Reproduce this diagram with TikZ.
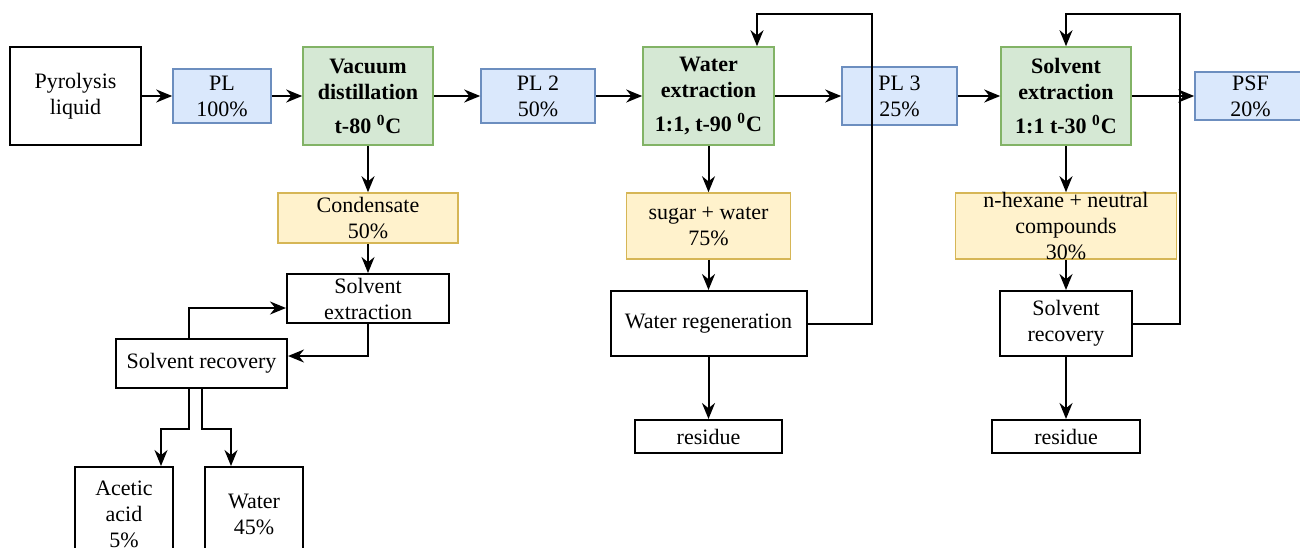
\documentclass[tikz,border=0pt]{standalone}
\usepackage{fontspec}
\setmainfont{Liberation Serif}
\usetikzlibrary{arrows.meta,positioning}
\definecolor{plBlue}{HTML}{DAE8FC}
\definecolor{plBlueLine}{HTML}{6C8EBF}
\definecolor{stageGreen}{HTML}{D5E8D4}
\definecolor{stageGreenLine}{HTML}{82B366}
\definecolor{cutYellow}{HTML}{FFF2CC}
\definecolor{cutYellowLine}{HTML}{D6B656}
\newcommand{\flowfont}{\fontsize{11pt}{13pt}\selectfont}
\tikzset{
  unitbox/.style={draw=black, line width=1pt, fill=white, align=center, inner sep=1pt, font=\flowfont},
  plbox/.style={draw=plBlueLine, line width=0.8pt, fill=plBlue, align=center, inner sep=1pt, font=\flowfont},
  stagebox/.style={draw=stageGreenLine, line width=0.8pt, fill=stageGreen, align=center, inner sep=1pt, font=\flowfont\bfseries},
  cutbox/.style={draw=cutYellowLine, line width=0.8pt, fill=cutYellow, align=center, inner sep=1pt, font=\flowfont},
  flow/.style={->, line width=1pt}
}

\begin{document}
\begin{tikzpicture}[x=0.5pt, y=-0.5pt, >={Stealth[length=8pt,width=6.5pt]}]
\useasboundingbox (0,0) rectangle (1300,547);
\clip (0,0) rectangle (1300,547);
% ---------- main line ----------
\node[unitbox, minimum width=65.5pt, minimum height=49pt] (pyro) at (75.5,96) {Pyrolysis\\liquid};
\node[plbox, minimum width=49pt, minimum height=27pt] (pl1) at (222,96) {PL\\100\%};
\node[stagebox, minimum width=65pt, minimum height=49pt] (vac) at (368,96) {Vacuum\\distillation\\[4pt]t-80 \textsuperscript{0}C};
\node[plbox, minimum width=57pt, minimum height=27pt] (pl2) at (538,96) {PL 2\\50\%};
\node[stagebox, minimum width=65.5pt, minimum height=49pt] (wext) at (708.5,96) {Water\\extraction\\[4pt]1:1, t-90 \textsuperscript{0}C};
\node[plbox, minimum width=57.5pt, minimum height=29pt] (pl3) at (899.5,96) {PL 3\\25\%};
\node[stagebox, minimum width=65pt, minimum height=49pt] (sext) at (1066,96) {Solvent\\extraction\\[4pt]1:1 t-30 \textsuperscript{0}C};
\node[plbox, minimum width=55.5pt, minimum height=24pt] (psf) at (1250.5,96) {PSF\\20\%};
\foreach \a/\b in {pyro/pl1, pl1/vac, vac/pl2, pl2/wext, wext/pl3, pl3/sext, sext/psf}
  \draw[flow] (\a) -- (\b);
% ---------- (1) condensate branch ----------
\node[cutbox, minimum width=90pt, minimum height=25pt] (cond) at (368,218) {Condensate\\50\%};
\node[unitbox, minimum width=81pt, minimum height=24.5pt] (sext2) at (368,298.5) {Solvent\\extraction};
\node[unitbox, minimum width=85.5pt, minimum height=24.5pt] (srec1) at (201.5,363.5) {Solvent recovery};
\node[unitbox, minimum width=49pt, minimum height=47pt] (acid) at (124,514) {Acetic\\acid\\5\%};
\node[unitbox, minimum width=49pt, minimum height=47pt] (water) at (254,514) {Water\\45\%};
\draw[flow] (vac) -- (cond);
\draw[flow] (cond) -- (sext2);
\draw[flow] (sext2.south) |- ([yshift=3.75pt]srec1.east);
\draw[flow] ([xshift=-6.25pt]srec1.north) |- ([yshift=-4.75pt]sext2.west);
\draw[flow] ([xshift=-6.25pt]srec1.south) -- ++(0,40) -| ([xshift=18.5pt]acid.north);
\draw[flow] (srec1.south) -- ++(0,40) -| ([xshift=-11.5pt]water.north);
% ---------- (2) water extraction branch ----------
\node[cutbox, minimum width=82pt, minimum height=33pt] (sugar) at (708.5,226) {sugar + water\\75\%};
\node[unitbox, minimum width=98pt, minimum height=32.5pt] (wreg) at (708.5,323.5) {Water regeneration};
\node[unitbox, minimum width=73.5pt, minimum height=16.5pt] (res1) at (708.5,436.5) {residue};
\draw[flow] (wext) -- (sugar);
\draw[flow] (sugar) -- (wreg);
\draw[flow] (wreg) -- (res1);
\coordinate (back1) at (872,14);
\draw[flow] (wreg.east) -| (back1) -| ([xshift=24.25pt]wext.north);
% ---------- (3) solvent extraction branch ----------
\node[cutbox, minimum width=110.5pt, minimum height=33pt] (hex) at (1066,226) {};
\node[align=center, font=\flowfont, inner sep=0pt] (hextext) at (hex) {n-hexane + neutral\\compounds\\30\%};
\node[unitbox, minimum width=66pt, minimum height=32.5pt] (srec2) at (1066,323.5) {Solvent\\recovery};
\node[unitbox, minimum width=74pt, minimum height=16.5pt] (res2) at (1066,436.5) {residue};
\draw[flow] (sext) -- (hex);
\draw[flow] (hex) -- (srec2);
\draw[flow] (srec2) -- (res2);
\coordinate (back2) at (1180,14);
\draw[flow] (srec2.east) -| (back2) -| (sext.north);
\end{tikzpicture}
\end{document}
